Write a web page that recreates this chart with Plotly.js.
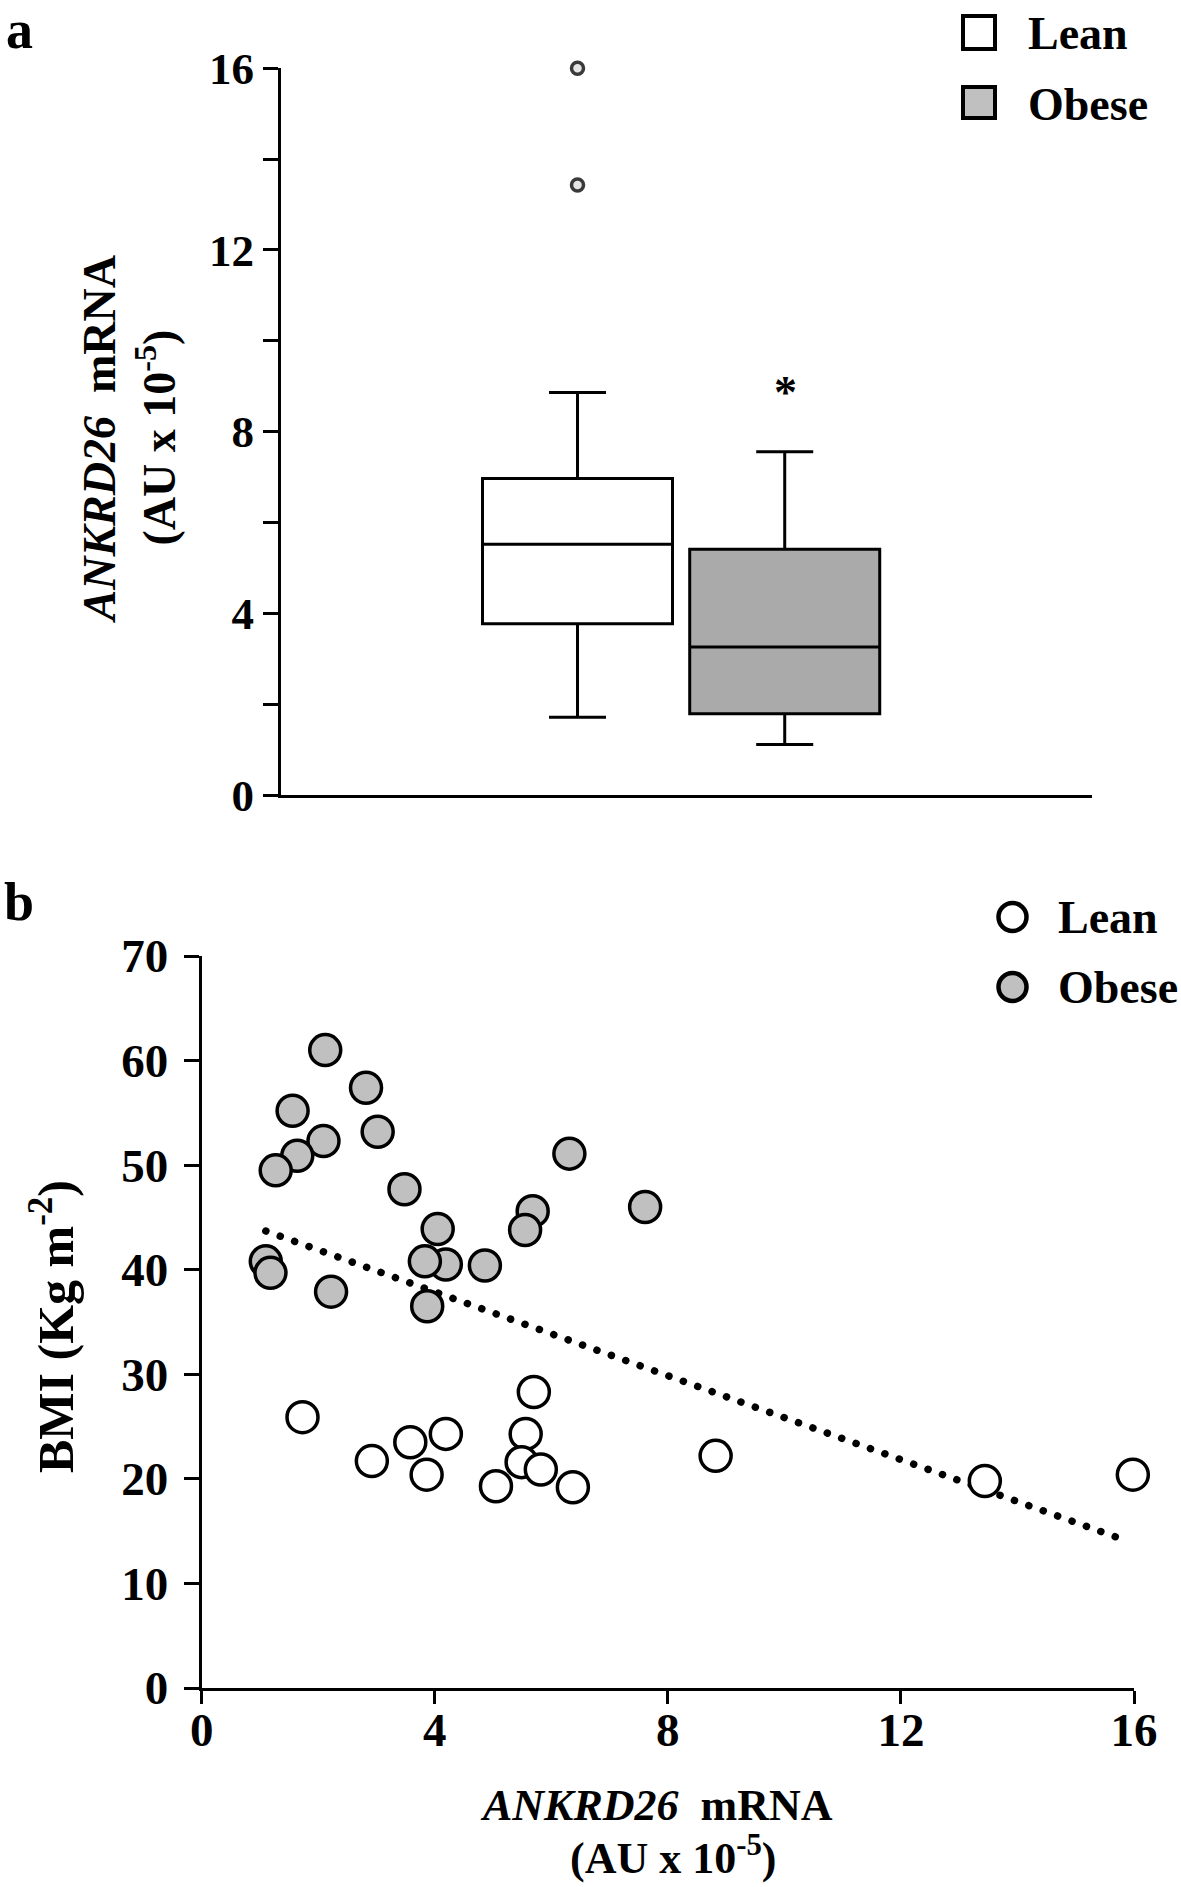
<!DOCTYPE html>
<html>
<head>
<meta charset="utf-8">
<script src="https://cdn.plot.ly/plotly-3.0.1.min.js"></script>
<style>
  body { margin: 0; background: #fff; }
  #chart { width: 1181px; height: 1887px; }
  .scatterlayer .js-line { stroke-linecap: round !important; }
</style>
</head>
<body>
<div id="chart"></div>
<script>
// panel a - box summaries of ANKRD26 mRNA (AU x 10^-5)
var groups = ["Lean", "Obese"];
var boxQ1 = [3.77, 1.79];
var boxMedian = [5.52, 3.26];
var boxQ3 = [6.97, 5.41];
var boxLow = [1.71, 1.11];
var boxHigh = [8.86, 7.56];
var outliers = [16.0, 13.43];

// panel b - ANKRD26 mRNA vs BMI
var leanMrna = [1.73, 5.70, 2.92, 3.58, 4.19, 3.86, 5.05, 5.56, 5.49, 5.82, 6.37, 8.82, 13.44, 15.98];
var leanBmi  = [25.9, 28.3, 21.7, 23.5, 24.3, 20.4, 19.3, 24.3, 21.6, 20.9, 19.2, 22.2, 19.8, 20.4];
var obeseMrna = [2.12, 2.82, 1.56, 3.02, 2.09, 1.64, 1.27, 6.31, 3.48, 7.61, 5.68, 5.55, 4.05, 4.19, 3.83, 4.86, 1.10, 1.18, 2.22, 3.87];
var obeseBmi  = [61.0, 57.4, 55.2, 53.2, 52.3, 50.9, 49.5, 51.1, 47.7, 46.0, 45.6, 43.8, 43.9, 40.5, 40.8, 40.4, 40.8, 39.7, 37.9, 36.5];
var trendMrna = [1.10, 15.86];
var trendBmi  = [43.7, 14.1];

var W = 1181, H = 1887;
var FONT = "Liberation Serif, Times New Roman, serif";
var GREY = "#c0c0c0";
function px(x) { return x / W; }
function py(y) { return 1 - y / H; }

var boxFill = ["#ffffff", "#aaaaaa"];

var traces = [];
groups.forEach(function (g, i) {
  traces.push({
    type: "box",
    x: [g],
    q1: [boxQ1[i]],
    median: [boxMedian[i]],
    q3: [boxQ3[i]],
    lowerfence: [boxLow[i]],
    upperfence: [boxHigh[i]],
    boxpoints: false,
    fillcolor: boxFill[i],
    line: { color: "#000", width: 3 },
    width: 0.917,
    whiskerwidth: 0.3,
    xaxis: "x", yaxis: "y",
    hoverinfo: "skip"
  });
});

// outliers of the lean group
traces.push({
  type: "scatter", mode: "markers",
  x: outliers.map(function () { return "Lean"; }),
  y: outliers,
  marker: { size: 12, color: "#e6e6e6", line: { color: "#3a3a3a", width: 3.5 } },
  cliponaxis: false,
  xaxis: "x", yaxis: "y"
});

// dotted trend line
traces.push({
  type: "scatter", mode: "lines",
  x: trendMrna, y: trendBmi,
  line: { color: "#000", width: 7.5, dash: "0.1px,15.2px" },
  xaxis: "x2", yaxis: "y2"
});

traces.push({
  type: "scatter", mode: "markers",
  x: obeseMrna, y: obeseBmi,
  marker: { size: 31, color: GREY, line: { color: "#000", width: 3.5 } },
  cliponaxis: false,
  xaxis: "x2", yaxis: "y2"
});

traces.push({
  type: "scatter", mode: "markers",
  x: leanMrna, y: leanBmi,
  marker: { size: 31, color: "#fff", line: { color: "#000", width: 3.5 } },
  cliponaxis: false,
  xaxis: "x2", yaxis: "y2"
});

function axisBase() {
  return {
    showline: true, linewidth: 3, linecolor: "#000",
    showgrid: false, zeroline: false,
    ticks: "outside", tickwidth: 3, tickcolor: "#000",
    fixedrange: true
  };
}

var xa = axisBase();
Object.assign(xa, {
  domain: [px(281), px(1092)], anchor: "y",
  type: "category", range: [-1.431, 2.483],
  ticks: "", showticklabels: false
});

var ya = axisBase();
Object.assign(ya, {
  domain: [py(795), py(68.3)], anchor: "x",
  range: [0, 16], tick0: 0, dtick: 4, ticklen: 15,
  tickfont: { family: FONT, size: 45, color: "#000", weight: "bold" },
  minor: { dtick: 2, ticks: "outside", ticklen: 15, tickwidth: 3, tickcolor: "#000" }
});

var xb = axisBase();
Object.assign(xb, {
  domain: [px(201.7), px(1134)], anchor: "y2",
  range: [0, 16], tick0: 0, dtick: 4, ticklen: 13,
  ticklabelstandoff: -14,
  tickfont: { family: FONT, size: 47, color: "#000", weight: "bold" }
});

var yb = axisBase();
Object.assign(yb, {
  domain: [py(1688), py(956)], anchor: "x2",
  range: [0, 70], tick0: 0, dtick: 10, ticklen: 15,
  ticklabelstandoff: 6,
  tickfont: { family: FONT, size: 47, color: "#000", weight: "bold" }
});

function note(text, x, y, size, opts) {
  var a = {
    text: text, xref: "paper", yref: "paper",
    x: px(x), y: py(y), showarrow: false,
    xanchor: "center", yanchor: "middle",
    font: { family: FONT, size: size, color: "#000" }
  };
  return Object.assign(a, opts || {});
}

var NB = "\u00a0";
var annotations = [
  note("<b>a</b>", 4, -2, 54, { xanchor: "left", yanchor: "top" }),
  note("<b>b</b>", 2, 870, 54, { xanchor: "left", yanchor: "top" }),
  note("<b><i>ANKRD26</i>" + NB + NB + "mRNA</b>", 98.5, 440, 46, { textangle: -90 }),
  note("<b>(AU x 10<sup>-5</sup>)</b>", 155, 437.5, 46, { textangle: -90 }),
  note("<b>BMI (Kg m<sup>-2</sup>)</b>", 52, 1327, 50, { textangle: -90 }),
  note("<b><i>ANKRD26</i>" + NB + NB + "mRNA</b>", 656, 1805, 44),
  note("<b>(AU x 10<sup>-5</sup>)</b>", 673, 1855, 44),
  note("<b>*</b>", 785, 392, 46),
  note("<b>Lean</b>", 1026, 33.5, 46, { xanchor: "left" }),
  note("<b>Obese</b>", 1026, 104, 46, { xanchor: "left" }),
  note("<b>Lean</b>", 1056, 917, 46, { xanchor: "left" }),
  note("<b>Obese</b>", 1056, 987, 46, { xanchor: "left" })
];

function rectShape(x0, y0, x1, y1, fill) {
  return { type: "rect", xref: "paper", yref: "paper",
    x0: px(x0), x1: px(x1), y0: py(y1), y1: py(y0),
    fillcolor: fill, line: { color: "#000", width: 4 } };
}
function circleShape(cx, cy, r, fill) {
  return { type: "circle", xref: "paper", yref: "paper",
    x0: px(cx - r), x1: px(cx + r), y0: py(cy + r), y1: py(cy - r),
    fillcolor: fill, line: { color: "#000", width: 4.5 } };
}

var shapes = [
  rectShape(963, 16, 995, 49, "#fff"),
  rectShape(963, 87, 995, 118, GREY),
  circleShape(1012.5, 917, 14, "#fff"),
  circleShape(1012.5, 987, 14, GREY)
];

var layout = {
  width: W, height: H,
  margin: { l: 0, r: 0, t: 0, b: 0 },
  paper_bgcolor: "#fff", plot_bgcolor: "rgba(0,0,0,0)",
  showlegend: false,
  boxmode: "overlay",
  xaxis: xa, yaxis: ya, xaxis2: xb, yaxis2: yb,
  annotations: annotations,
  shapes: shapes
};

Plotly.newPlot("chart", traces, layout, { staticPlot: true });
</script>
</body>
</html>
